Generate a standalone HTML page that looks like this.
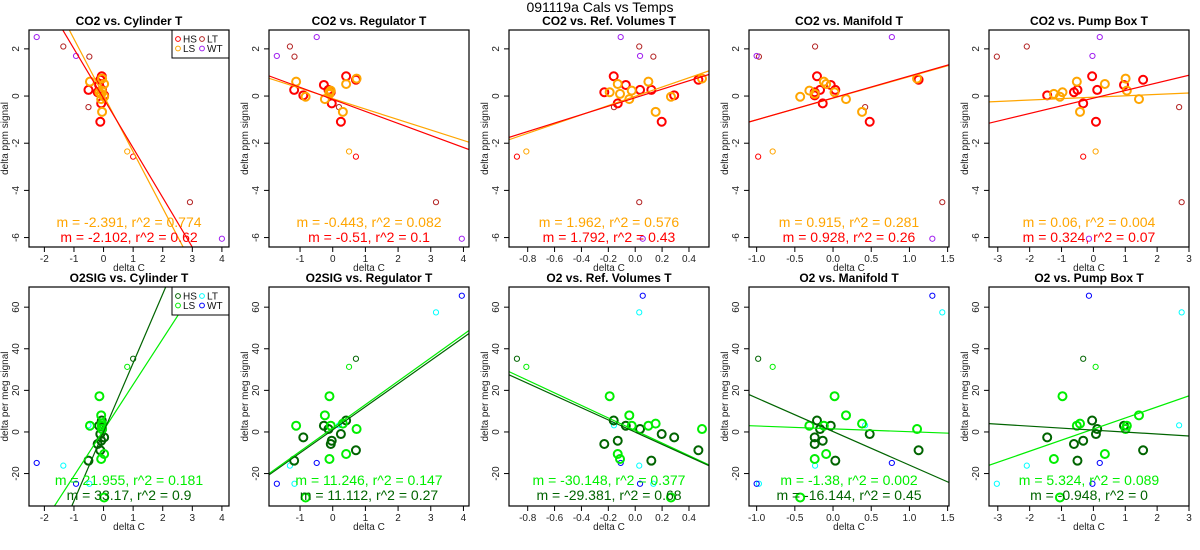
<!DOCTYPE html>
<html><head><meta charset="utf-8"><style>
html,body{margin:0;padding:0;background:#fff;overflow:hidden;width:1200px;height:550px}
svg{display:block;font-family:"Liberation Sans",sans-serif}
</style></head><body>
<svg id="chart" width="1200" height="550" xmlns="http://www.w3.org/2000/svg">
<text x="600" y="12" text-anchor="middle" font-size="14">091119a   Cals vs Temps</text>
</svg>
<script>
// ---- data ----
const hsCO2 = [0.16,0.84,-0.31,0.47,0.26,0.26,-1.09,0.03,0.69];
const lsCO2 = [0.16,0.51,0.09,-0.13,0.23,0.61,-0.67,-0.03,0.74];
const hsO2 = [-5.8,5.5,-4.2,3.0,1.4,-13.8,-1.0,-2.6,-8.8];
const lsO2 = [17.2,-10.6,-13.0,8.0,3.0,3.0,4.0,-31.5,1.4];
const hsThinCO2 = [-2.57], hsThinO2 = [35.2];
const lsThinCO2 = [-2.35], lsThinO2 = [31.3];
const ltCO2 = [2.1,1.67,-0.47,-4.5], ltO2 = [-16.2,-24.9,3.2,57.5];
const wtCO2 = [2.5,1.7,-6.05], wtO2 = [-14.9,-24.9,65.5];

const hsX = [
 [-0.2,-0.06,-0.08,-0.15,-0.05,-0.51,-0.11,0.02,-0.11],
 [-0.06,0.41,-0.03,-0.27,-0.13,-1.18,0.25,-0.9,0.71],
 [-0.23,-0.16,-0.13,-0.07,0.036,0.12,0.197,0.29,0.47],
 [-0.24,-0.21,-0.135,-0.03,-0.17,0.03,0.48,-0.24,1.12],
 [-0.61,-0.04,-0.32,0.96,0.12,-0.5,0.08,-1.45,1.56]];
const lsX = [
 [-0.14,0.02,-0.08,-0.08,-0.06,-0.46,-0.05,0.02,-0.05],
 [-0.1,0.41,-0.1,-0.24,-0.06,-1.12,0.31,-0.83,0.73],
 [-0.19,-0.13,-0.113,-0.044,-0.026,0.098,0.152,0.266,0.497],
 [0.02,-0.09,-0.24,0.17,-0.31,-0.12,0.38,-0.43,1.10],
 [-0.97,0.36,-1.24,1.43,1.05,-0.52,-0.42,-1.05,1.01]];
const hsThinX = [[1.0],[0.71],[-0.88],[-0.98],[-0.32]];
const lsThinX = [[0.8],[0.5],[-0.81],[-0.79],[0.07]];
const ltX = [[-1.36,-0.48,-0.51,2.92],[-1.31,-1.17,0.19,3.16],[0.03,0.135,-0.158,0.03],[-0.235,-0.97,0.42,1.43],[-2.09,-3.03,2.69,2.77]];
const wtX = [[-2.26,-0.93,4.0],[-0.49,-1.71,3.95],[-0.108,0.036,0.056],[0.77,-1.0,1.3],[0.2,-0.03,-0.14]];

const xDomains = [[-2.52,4.24],[-1.95,4.17],[-0.939,0.549],[-1.10,1.518],[-3.276,3.0]];
const xTicks = [[-2,-1,0,1,2,3,4],[-1,0,1,2,3,4],[-0.8,-0.6,-0.4,-0.2,0,0.2,0.4],[-1,-0.5,0,0.5,1,1.5],[-3,-2,-1,0,1,2,3]];
const xTickLabels = [["-2","-1","0","1","2","3","4"],["-1","0","1","2","3","4"],["-0.8","-0.6","-0.4","-0.2","0.0","0.2","0.4"],["-1.0","-0.5","0.0","0.5","1.0","1.5"],["-3","-2","-1","0","1","2","3"]];
const topTitles = ["CO2 vs. Cylinder T","CO2 vs. Regulator T","CO2 vs. Ref. Volumes T","CO2 vs. Manifold T","CO2 vs. Pump Box T"];
const botTitles = ["O2SIG vs. Cylinder T","O2SIG vs. Regulator T","O2 vs. Ref. Volumes T","O2 vs. Manifold T","O2 vs. Pump Box T"];
const topYTicks = [-6,-4,-2,0,2];
const botYTicks = [-20,0,20,40,60];
const topSlopeLS = [-2.391,-0.443,1.962,0.915,0.06], topIntLS = [0.03,-0.11,-0.01,-0.09,-0.05], topR2LS = ["0.774","0.082","0.576","0.281","0.004"];
const topSlopeHS = [-2.102,-0.51,1.792,0.928,0.324], topIntHS = [-0.1,-0.14,-0.07,-0.08,-0.09], topR2HS = ["0.62","0.1","0.43","0.26","0.07"];
const botSlopeLS = [21.955,11.246,-30.148,-1.38,5.324], botIntLS = [0.85,1.9,0.7,1.5,1.4], botR2LS = ["0.181","0.147","0.377","0.002","0.089"];
const botSlopeHS = [33.17,11.112,-29.381,-16.144,-0.948], botIntHS = [0,1.0,-0.1,0.2,0.9], botR2HS = ["0.9","0.27","0.68","0.45","0"];

// ---- drawing ----
const NS = "http://www.w3.org/2000/svg";
const svg = document.getElementById("chart");
function mk(tag, attrs, parent){ const e=document.createElementNS(NS,tag); for(const k in attrs) e.setAttribute(k,attrs[k]); (parent||svg).appendChild(e); return e; }

const rows = [
 {top:30,bot:247,yd:[-6.40,2.80],yt:topYTicks,titles:topTitles,ylab:"delta ppm signal",
  cols:{hs:"#ff0000",ls:"#ffa500",lt:"#b22222",wt:"#a020f0"},
  hsY:hsCO2,lsY:lsCO2,hsTY:hsThinCO2,lsTY:lsThinCO2,ltY:ltCO2,wtY:wtCO2,
  mLS:topSlopeLS,bLS:topIntLS,rLS:topR2LS,mHS:topSlopeHS,bHS:topIntHS,rHS:topR2HS,statY:[227,242]},
 {top:287,bot:506,yd:[-35.6,69.7],yt:botYTicks,titles:botTitles,ylab:"delta per meg signal",
  cols:{hs:"#006400",ls:"#00ee00",lt:"#00ffff",wt:"#0000ff"},
  hsY:hsO2,lsY:lsO2,hsTY:hsThinO2,lsTY:lsThinO2,ltY:ltO2,wtY:wtO2,
  mLS:botSlopeLS,bLS:botIntLS,rLS:botR2LS,mHS:botSlopeHS,bHS:botIntHS,rHS:botR2HS,statY:[485,500]}
];

rows.forEach((R,ri)=>{
 for(let p=0;p<5;p++){
  const L=29+240*p, Rt=L+200, T=R.top, B=R.bot;
  const xd=xDomains[p];
  const sx=v=>L+(v-xd[0])/(xd[1]-xd[0])*200;
  const sy=v=>B-(v-R.yd[0])/(R.yd[1]-R.yd[0])*(B-T);
  const g=mk("g",{});
  
  
  const cid="clip"+ri+"_"+p;
  const cp=mk("clipPath",{id:cid},g); mk("rect",{x:L,y:T,width:200,height:B-T},cp);
  const t=mk("text",{x:L+100,y:T-5,"text-anchor":"middle","font-size":"12","font-weight":"bold"},g);
  t.textContent=R.titles[p];
  
  
  xTicks[p].forEach((v,i)=>{
   const x=sx(v);
   mk("line",{x1:x,y1:B,x2:x,y2:B+5,stroke:"#000","stroke-width":1},g);
   const tl=mk("text",{x:x,y:B+15,"text-anchor":"middle","font-size":"10",fill:"#222"},g);
   tl.textContent=xTickLabels[p][i];
   
   
  });
  R.yt.forEach(v=>{
   const y=sy(v);
   mk("line",{x1:L-5,y1:y,x2:L,y2:y,stroke:"#000","stroke-width":1},g);
   const tl=mk("text",{x:L-10,y:y,"text-anchor":"middle","font-size":"10",fill:"#222",transform:`rotate(-90 ${L-10} ${y})`},g);
   tl.textContent=String(v);
   
   
  });
  const xl=mk("text",{x:L+100,y:B+24,"text-anchor":"middle","font-size":"10",fill:"#222"},g);
  xl.textContent="delta C";
  
  
  const yx=L-21, ym=(T+B)/2;
  const yl=mk("text",{x:yx,y:ym,"text-anchor":"middle","font-size":"10",fill:"#222",transform:`rotate(-90 ${yx} ${ym})`},g);
  yl.textContent=R.ylab;
  
  
  const pg=mk("g",{"clip-path":`url(#${cid})`},g);
  function pts(xs,ys,col,thick,name){
   xs.forEach((v,i)=>{
    const c=mk("circle",{cx:sx(v),cy:sy(ys[i]),r:thick?4:2.6,fill:"none",stroke:col,"stroke-width":thick?2:1},pg);
    
    
   });
  }
  pts(ltX[p],R.ltY,R.cols.lt,false,'point-lt');
  pts(wtX[p],R.wtY,R.cols.wt,false,'point-wt');
  pts(hsThinX[p],R.hsTY,R.cols.hs,false,'point-hs');
  pts(lsThinX[p],R.lsTY,R.cols.ls,false,'point-ls');
  pts(hsX[p],R.hsY,R.cols.hs,true,'point-hs');
  pts(lsX[p],R.lsY,R.cols.ls,true,'point-ls');
  function fit(m,b,col,name){
   const ln=mk("line",{x1:sx(xd[0]),y1:sy(m*xd[0]+b),x2:sx(xd[1]),y2:sy(m*xd[1]+b),stroke:col,"stroke-width":1.2},pg);
   
   
  }
  fit(R.mLS[p],R.bLS[p],R.cols.ls,'fit-line-ls');
  fit(R.mHS[p],R.bHS[p],R.cols.hs,'fit-line-hs');
  const s1=mk("text",{x:L+100,y:R.statY[0],"text-anchor":"middle","font-size":"14",fill:R.cols.ls},g);
  s1.textContent=`m = ${R.mLS[p]}, r^2 = ${R.rLS[p]}`;
  
  
  const s2=mk("text",{x:L+100,y:R.statY[1],"text-anchor":"middle","font-size":"14",fill:R.cols.hs},g);
  s2.textContent=`m = ${R.mHS[p]}, r^2 = ${R.rHS[p]}`;
  
  
  if(p===0){
   const lg=mk("g",{},g);
   
   
   mk("rect",{x:Rt-57,y:T,width:57,height:28,fill:"#fff",stroke:"#000","stroke-width":1},lg);
   const ents=[["HS",R.cols.hs,0,0],["LT",R.cols.lt,1,0],["LS",R.cols.ls,0,1],["WT",R.cols.wt,1,1]];
   ents.forEach(e=>{
    const cx=Rt-51+e[2]*24, cy=T+9+e[3]*9.5;
    const ent=mk("g",{},lg);
    
    
    mk("circle",{cx:cx,cy:cy,r:2.4,fill:"none",stroke:e[1],"stroke-width":1},ent);
    const et=mk("text",{x:cx+5,y:cy+3.5,"font-size":"10",fill:"#111"},ent);
    et.textContent=e[0];
   });
  }
  mk("rect",{x:L,y:T,width:200,height:B-T,fill:"none",stroke:"#000","stroke-width":1.2},g);
 }
});
</script>
</body></html>
